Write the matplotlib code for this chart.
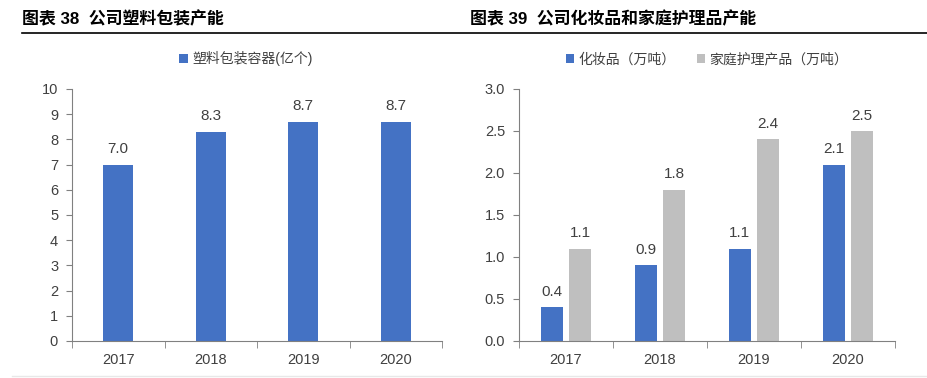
import matplotlib.pyplot as plt
import numpy as np

plt.rcParams['font.family'] = ['Liberation Sans', 'Noto Sans CJK SC']

# data
years = ['2017', '2018', '2019', '2020']
plastic = [7.0, 8.3, 8.7, 8.7]
cosmetics = [0.4, 0.9, 1.1, 2.1]
household = [1.1, 1.8, 2.4, 2.5]

BLUE, GREY = '#4472C4', '#BFBFBF'
TXT = '#404040'
W, H = 928, 378

fig = plt.figure(figsize=(W / 100, H / 100), dpi=100)


def px_axes(x0, x1, y_top, y_bot):
    return fig.add_axes([x0 / W, 1 - y_bot / H, (x1 - x0) / W, (y_bot - y_top) / H])


def style(ax):
    for s in ['top', 'right']:
        ax.spines[s].set_visible(False)
    for s in ['left', 'bottom']:
        ax.spines[s].set_color('#808080')
        ax.spines[s].set_linewidth(0.8)
    ax.tick_params(axis='y', direction='out', length=4, color='#808080', labelsize=10.5, labelcolor=TXT, pad=6)
    ax.tick_params(axis='x', which='major', length=0, labelsize=10.5, labelcolor=TXT, pad=9)
    ax.tick_params(axis='x', which='minor', length=5, color='#808080', direction='out')
    ax.set_xlim(-0.5, 3.5)
    ax.set_xticks(range(4))
    ax.set_xticklabels(years)
    ax.set_xticks(np.arange(-0.5, 4, 1), minor=True)


# titles and rules
fig.text(22 / W, 1 - 19 / H, '图表 38  公司塑料包装产能', fontsize=12.2, fontweight='bold', va='center', color='black')
fig.text(470 / W, 1 - 19 / H, '图表 39  公司化妆品和家庭护理品产能', fontsize=12.2, fontweight='bold', va='center', color='black')
fig.add_artist(plt.Line2D([22 / W, 1], [1 - 33 / H] * 2, color='black', lw=1.2))
fig.add_artist(plt.Line2D([12 / W, 1], [1 - 376 / H] * 2, color='#E8E8E8', lw=1))

# left chart
ax1 = px_axes(72, 442, 89, 341)
x = np.arange(len(years))
ax1.bar(x, plastic, width=0.32, color=BLUE, label='塑料包装容器(亿个)')
ax1.set_ylim(0, 10)
ax1.set_yticks(range(0, 11))
style(ax1)
for xi, v in zip(x, plastic):
    ax1.text(xi, v + 0.35, f'{v:.1f}', ha='center', va='bottom', fontsize=11, color=TXT)
ax1.legend(loc='lower center', bbox_to_anchor=(0.47, 1.04), frameon=False, fontsize=10,
           handlelength=0.6, handleheight=0.6, handletextpad=0.3, labelcolor=TXT)

# right chart
ax2 = px_axes(519, 895, 89, 341)
ax2.bar(x - 0.15, cosmetics, width=0.24, color=BLUE, label='化妆品（万吨）')
ax2.bar(x + 0.15, household, width=0.24, color=GREY, label='家庭护理产品（万吨）')
ax2.set_ylim(0, 3)
ax2.set_yticks(np.arange(0, 3.01, 0.5))
ax2.set_yticklabels([f'{v:.1f}' for v in np.arange(0, 3.01, 0.5)])
style(ax2)
for xi, v in zip(x, cosmetics):
    ax2.text(xi - 0.15, v + 0.1, f'{v:.1f}', ha='center', va='bottom', fontsize=11, color=TXT)
for xi, v in zip(x, household):
    ax2.text(xi + 0.15, v + 0.1, f'{v:.1f}', ha='center', va='bottom', fontsize=11, color=TXT)
ax2.legend(loc='lower center', bbox_to_anchor=(0.5, 1.04), frameon=False, fontsize=10, ncol=2,
           handlelength=0.6, handleheight=0.6, handletextpad=0.3, columnspacing=1.5, labelcolor=TXT)

fig.savefig('out.png', dpi=100)
